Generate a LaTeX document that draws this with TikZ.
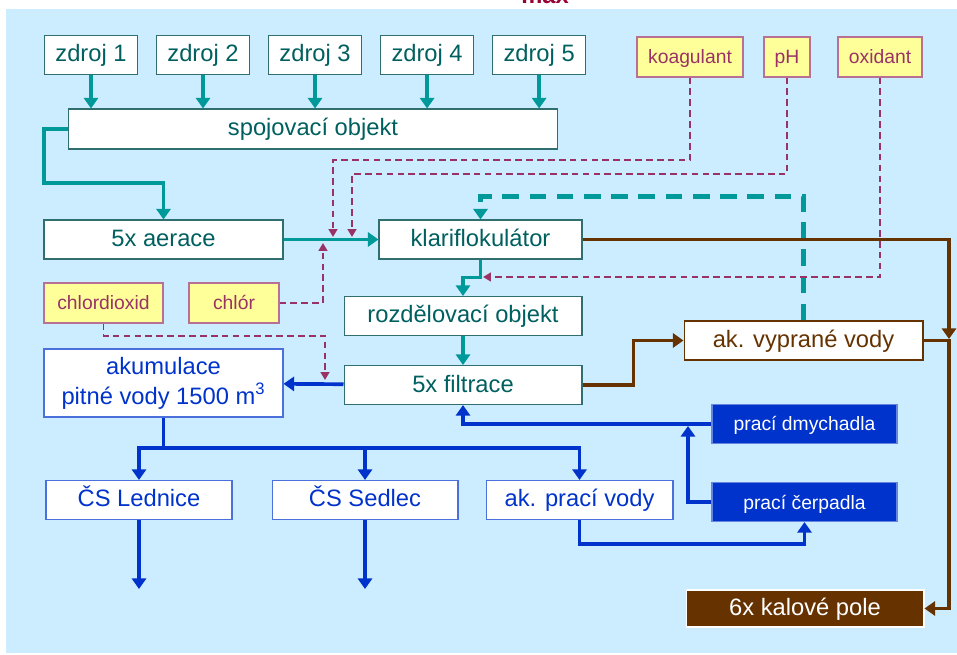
\documentclass[tikz,border=0pt]{standalone}
\usepackage{fontspec}
\setmainfont{Liberation Sans}
\usepackage{xcolor}
\usetikzlibrary{arrows.meta, positioning}

\definecolor{pozadi}{HTML}{CCECFF}
\definecolor{tyrkys}{HTML}{009999}
\definecolor{tyrkystext}{HTML}{005F5F}
\definecolor{ramecek}{HTML}{2F6F6F}
\definecolor{fialova}{HTML}{993366}
\definecolor{zluta}{HTML}{FFFF99}
\definecolor{modra}{HTML}{0033CC}
\definecolor{hneda}{HTML}{663300}
\definecolor{cervena}{HTML}{990033}

\newcommand{\pismovelke}{\fontsize{13.5pt}{17pt}\selectfont}
\newcommand{\pismomale}{\fontsize{11pt}{13pt}\selectfont}

\tikzset{%
  box/.style={rectangle, draw=ramecek, line width=0.6pt, fill=white, text=tyrkystext,
    inner sep=0mm, minimum height=7.8mm, text height=2ex, text depth=0.5ex, font=\pismovelke},
  chem/.style={box, draw=fialova!70, fill=zluta, text=fialova, minimum height=8mm, font=\pismomale},
  vodabox/.style={box, draw=modra!70, text=modra},
  plnabox/.style={box, draw=modra!60, fill=modra, text=white, font=\pismomale},
  kalbox/.style={box, draw=white, fill=hneda, text=white},
  tok/.style={color=tyrkys, line width=2.1pt, -{Triangle[width=8pt,length=6pt]}},
  voda/.style={tok, color=modra},
  kal/.style={tok, color=hneda, line width=1.9pt},
  zpet/.style={tok, line width=2.7pt, dash pattern=on 9.5pt off 6pt},
  davka/.style={color=fialova, line width=1.1pt, dash pattern=on 3.8pt off 2.4pt,
    -{Triangle[width=5pt,length=4.5pt]}}
}

\begin{document}
\begin{tikzpicture}[x=0.02cm, y=-0.02cm]
  \useasboundingbox (0,0) rectangle (957,655);
  \fill[white] (0,0) rectangle (957,655);
  \fill[pozadi] (6,9) rectangle (957,653);
  \node[anchor=base, text=cervena, font=\pismovelke\bfseries] (max) at (545,4) {max};

  \node[box, minimum width=18.6mm] (z1) at (91,55) {zdroj 1};
  \node[box, minimum width=18.6mm, right=3.6mm of z1] (z2) {zdroj 2};
  \node[box, minimum width=18.6mm, right=3.6mm of z2] (z3) {zdroj 3};
  \node[box, minimum width=18.6mm, right=3.6mm of z3] (z4) {zdroj 4};
  \node[box, minimum width=18.6mm, right=3.6mm of z4] (z5) {zdroj 5};
  \node[box, minimum width=98mm, minimum height=8mm] (spoj) at (313,129) {spojovací objekt};

  \node[chem, minimum width=21.2mm] (koag) at (690,57) {koagulant};
  \node[chem, minimum width=9.2mm] (ph) at (787,57) {pH};
  \node[chem, minimum width=16.8mm] (oxid) at (880,57) {oxidant};

  \node[box, minimum width=47.8mm] (aer) at (163.5,239.5) {5x aerace};
  \node[box, minimum width=40.6mm] (klar) at (480.5,239.5) {klariflokulátor};
  \node[chem, minimum width=23.8mm] (chlord) at (103.5,303) {chlordioxid};
  \node[chem, minimum width=18mm] (chlor) at (234,303) {chlór};
  \node[box, minimum width=47.6mm] (rozd) at (463,316) {rozdělovací objekt};
  \node[box, minimum width=47.6mm, below=5.8mm of rozd] (filtr) {5x filtrace};
  \node[box, draw=hneda, text=hneda, minimum width=47.8mm] (vypr) at (803.5,340.5) {ak. vyprané vody};
  \node[vodabox, minimum width=47.8mm, minimum height=13.6mm, text height={}, text depth={},
    align=center] (akum) at (163.5,383) {akumulace\\pitné vody 1500 m\textsuperscript{3}};

  \node[plnabox, minimum width=37mm] (dmych) at (804.5,424) {prací dmychadla};
  \node[plnabox, minimum width=37mm, below=7.6mm of dmych] (cerp) {prací čerpadla};
  \node[vodabox, minimum width=37.2mm] (led) at (139,500) {ČS Lednice};
  \node[vodabox, minimum width=37.2mm, right=7.8mm of led] (sed) {ČS Sedlec};
  \node[vodabox, minimum width=37.4mm, right=5.4mm of sed] (prv) {ak. prací vody};
  \node[kalbox, minimum width=47.6mm, minimum height=7.4mm] (kalp) at (805,608.5) {6x kalové pole};

  \coordinate (k1) at (333,237);
  \coordinate (k2) at (352,237);
  \coordinate (k3) at (323,243);
  \coordinate (k4) at (325,380);
  \coordinate (k5) at (483,277);
  \coordinate (uzel) at (949,339);
  \coordinate (rozv) at (163.5,448);
  \coordinate (odb) at (688,426);
  \coordinate[below=13.8mm of led.south] (ven1);
  \coordinate[below=13.8mm of sed.south] (ven2);

  \foreach \z in {z1,z2,z3,z4,z5}
    \draw[tok] (\z.south) -- (\z.south |- spoj.north);
  \draw[tok] (spoj.west) -| (44,183) -| (aer.north);
  \draw[tok] (aer) -- (klar);
  \draw[tok] (klar.south) -- ++(0,18) -| (rozd.north);
  \draw[tok] (rozd) -- (filtr);
  \draw[zpet] (vypr.north) -- ++(0,-124) -| (klar.north);

  \draw[davka] (koag.south) |- (333,160) -- (k1);
  \draw[davka] (ph.south) |- (352,174) -- (k2);
  \draw[davka] (chlor.east) -| (k3);
  \draw[davka] (chlord.south) |- (325,336) -- (k4);
  \draw[davka] (oxid.south) |- (k5);

  \draw[kal] (klar.east) -| (uzel);
  \draw[kal] (vypr.east) -- (vypr.east -| uzel) |- (kalp.east);
  \draw[kal] (filtr.east) -- ++(51,0) |- (vypr.west);

  \draw[voda] (filtr) -- (akum);
  \draw[voda, -] (akum.south) -- (rozv);
  \foreach \c in {led,sed,prv}
    \draw[voda] (rozv) -| (\c.north);
  \draw[voda] (dmych.west) -| (filtr.south);
  \draw[voda] (cerp.west) -| (odb);
  \draw[voda] (prv.south) -- ++(0,24) -| (cerp.south);
  \draw[voda] (led.south) -- (ven1);
  \draw[voda] (sed.south) -- (ven2);
\end{tikzpicture}
\end{document}
